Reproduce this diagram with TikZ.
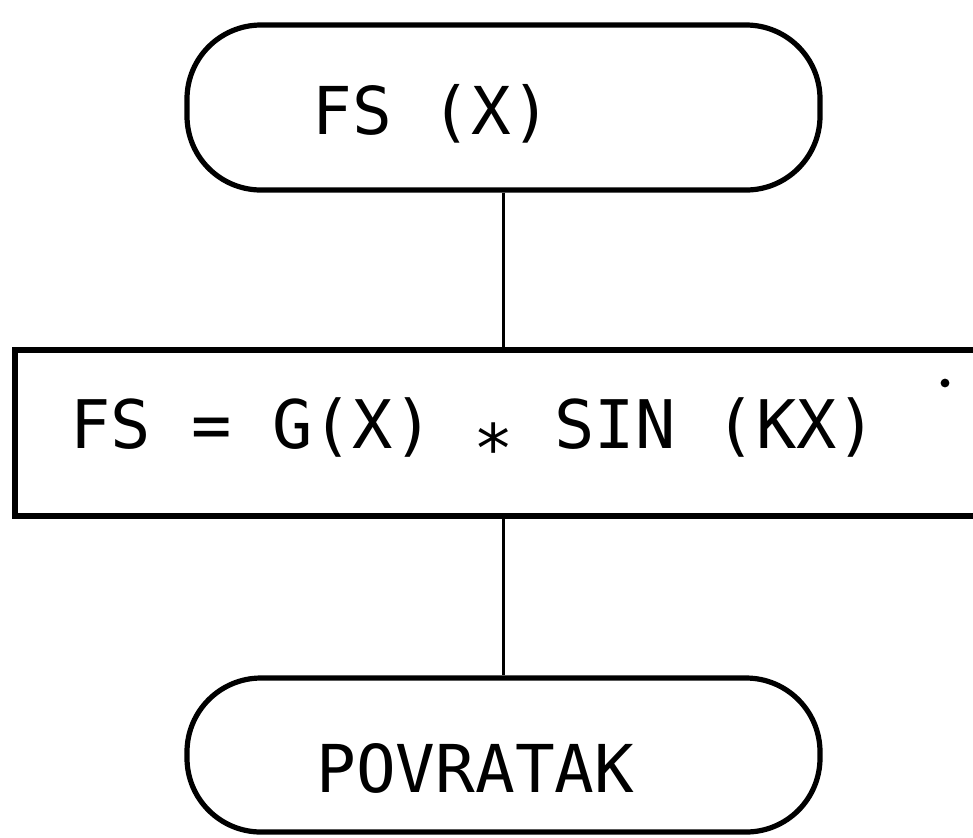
\documentclass[tikz,border=0pt]{standalone}
\usepackage{fontspec}
\newfontfamily\lgfont{DejaVu Sans Mono}
\begin{document}
\begin{tikzpicture}[x=0.5pt,y=-0.5pt,
  term/.style={draw, line width=2.6pt, rounded corners=37pt, minimum width=316.5pt, inner sep=0pt},
  proc/.style={draw, line width=2.8pt, minimum width=492.5pt, minimum height=83pt, inner sep=0pt},
  lbl/.style={anchor=base west, inner sep=0pt, font=\lgfont\fontsize{33pt}{36pt}\selectfont},
  conn/.style={line width=1.6pt}]
\useasboundingbox (0,0) rectangle (973,837);
\clip (0,0) rectangle (973,837);
\node[term, minimum height=82.5pt] (start) at (503.5,107.5) {};
\node[proc] (calc) at (507.5,433) {};
\node[term, minimum height=77pt] (ret) at (503.5,755) {};
\node[lbl] (t1) at (312,134) {FS (X)};
\node[lbl, font=\lgfont\fontsize{33.5pt}{36pt}\selectfont] (t2) at (70,448) {FS = G(X) \raisebox{-0.37em}{*} SIN (KX)};
\node[lbl] (t3) at (316,792) {POVRATAK};
\draw[conn] (start.south) -- (start.south |- calc.north);
\draw[conn] (ret.north |- calc.south) -- (ret.north);
\fill (945,383) circle (2.2pt);
\end{tikzpicture}
\end{document}
